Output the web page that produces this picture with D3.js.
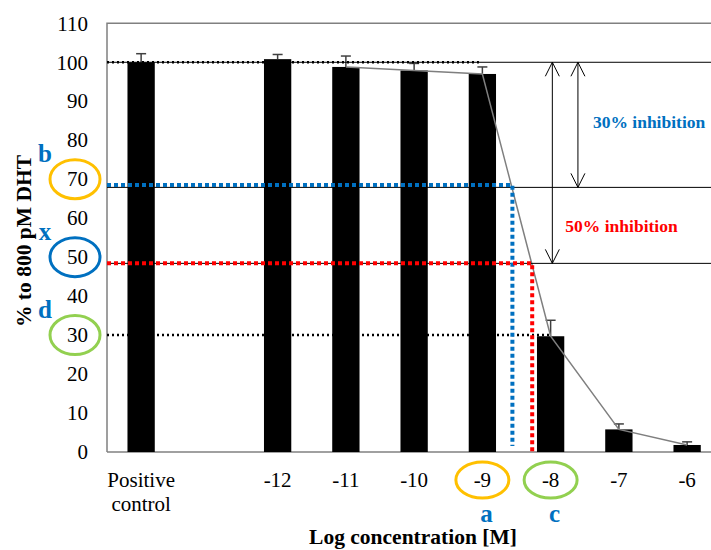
<!DOCTYPE html>
<html>
<head>
<meta charset="utf-8">
<script src="https://cdn.jsdelivr.net/npm/d3@7"></script>
<style>
	body { margin: 0; background: #fff; }
	text { font-family: 'Liberation Serif', 'Times New Roman', serif; }
</style>
</head>
<body>
<div id="chart"></div>
<script>
// data
const categories = ['PC', 'gap', '-12', '-11', '-10', '-9', '-8', '-7', '-6'];
const tickLabels = ['Positive control', '', '-12', '-11', '-10', '-9', '-8', '-7', '-6'];
const values = [100, null, 100.8, 98.8, 97.9, 97, 29.7, 5.8, 1.8];
const errors = [2.2, null, 1.2, 2.8, 1.8, 1.8, 4.1, 1.4, 0.8];
const lineCategories = ['-11', '-10', '-9', '-8', '-7', '-6'];
const yTicks = [0, 10, 20, 30, 40, 50, 60, 70, 80, 90, 100, 110];

// annotation values
const guideLevels = [100, 67.9, 48.4]; // thin solid lines
const topDotted = { level: 100, end: -9.05 };
const floorDotted = { level: 30, end: -8 };
const blueDotted = { level: 68.5, conc: -8.56 };
const redDotted = { level: 48.4, conc: -8.27 };
const arrows = [
	{ from: 100, to: 48.4, conc: -7.975, label: '50% inhibition' },
	{ from: 100, to: 67.9, conc: -7.6, label: '30% inhibition' }
];
const circledLevels = [70, 50, 30];
const levelLetters = ['b', 'x', 'd'];
const circledConcs = ['-9', '-8'];
const concLetters = ['a', 'c'];

const W = 711, H = 550;
const plotLeft = 107, plotTop = 23.3, plotBottom = 452;

const svg = d3.select('#chart').append('svg').attr('width', W).attr('height', H);

const x = d3.scaleBand().domain(categories).range([plotLeft, plotLeft + 9 * 68.25]).paddingInner(0.6).paddingOuter(0.3);
const y = d3.scaleLinear().domain([0, 110]).range([plotBottom, plotTop]);
const cx = (c) => x(c) + x.bandwidth() / 2;
const logX = d3.scaleLinear().domain([-12, -6]).range([cx('-12'), cx('-6')]);

const blue = '#0070C0', red = '#FF0000', orange = '#FFC000', green = '#92D050';

// frame
svg.append('path')
	.attr('d', `M${plotLeft},${plotBottom} V${plotTop} H${W + 5}`)
	.attr('fill', 'none').attr('stroke', '#808080').attr('stroke-width', 1.5);
svg.append('line')
	.attr('x1', plotLeft).attr('x2', W + 5).attr('y1', plotBottom).attr('y2', plotBottom)
	.attr('stroke', '#808080').attr('stroke-width', 1.5);

// 30 dotted guide sits behind the bars
svg.append('line')
	.attr('x1', plotLeft).attr('x2', logX(floorDotted.end))
	.attr('y1', y(floorDotted.level)).attr('y2', y(floorDotted.level))
	.attr('stroke', '#000').attr('stroke-width', 2.5).attr('stroke-dasharray', '2,3');

// bars
const rows = categories.map((c, i) => ({ c, v: values[i], e: errors[i] })).filter((d) => d.v !== null);

svg.selectAll('rect.bar').data(rows).join('rect')
	.attr('class', 'bar')
	.attr('x', (d) => x(d.c)).attr('width', x.bandwidth())
	.attr('y', (d) => y(d.v)).attr('height', (d) => y(0) - y(d.v))
	.attr('fill', '#000');

// error bars (upper)
const eb = svg.selectAll('g.err').data(rows).join('g').attr('class', 'err')
	.attr('stroke', '#404040').attr('stroke-width', 1.5);
eb.append('line').attr('x1', (d) => cx(d.c)).attr('x2', (d) => cx(d.c))
	.attr('y1', (d) => y(d.v)).attr('y2', (d) => y(d.v + d.e));
eb.append('line').attr('x1', (d) => cx(d.c) - 5).attr('x2', (d) => cx(d.c) + 5)
	.attr('y1', (d) => y(d.v + d.e)).attr('y2', (d) => y(d.v + d.e));

// curve
const linePts = lineCategories.map((c) => ({ c, v: values[categories.indexOf(c)] }));
svg.append('path').datum(linePts)
	.attr('d', d3.line().x((d) => cx(d.c)).y((d) => y(d.v)))
	.attr('fill', 'none').attr('stroke', '#7f7f7f').attr('stroke-width', 1.5);

// thin solid guides
svg.selectAll('line.guide').data(guideLevels).join('line')
	.attr('class', 'guide')
	.attr('x1', plotLeft).attr('x2', W + 5)
	.attr('y1', (d) => y(d)).attr('y2', (d) => y(d))
	.attr('stroke', '#000').attr('stroke-width', 1);

// top dotted
svg.append('line')
	.attr('x1', plotLeft).attr('x2', logX(topDotted.end))
	.attr('y1', y(topDotted.level)).attr('y2', y(topDotted.level))
	.attr('stroke', '#000').attr('stroke-width', 2.5).attr('stroke-dasharray', '2,3');

// blue and red dotted elbows
[[blueDotted, blue, 6], [redDotted, red, 0]].forEach(([g, col, gap]) => {
	svg.append('path')
		.attr('d', `M${plotLeft},${y(g.level)} H${logX(g.conc)} V${plotBottom - gap}`)
		.attr('fill', 'none').attr('stroke', col).attr('stroke-width', 4).attr('stroke-dasharray', '4,3');
});

// arrows
const head = (ax, ay, dir) => `M${ax - 7},${ay + dir * 14} L${ax},${ay} L${ax + 7},${ay + dir * 14}`;
arrows.forEach((a) => {
	const ax = logX(a.conc);
	svg.append('line').attr('x1', ax).attr('x2', ax).attr('y1', y(a.from)).attr('y2', y(a.to))
		.attr('stroke', '#000').attr('stroke-width', 1);
	svg.append('path').attr('d', head(ax, y(a.from), 1) + head(ax, y(a.to), -1))
		.attr('fill', 'none').attr('stroke', '#000').attr('stroke-width', 1);
});

// inhibition labels
svg.append('text')
	.attr('x', logX(arrows[0].conc) + 13).attr('y', (y(guideLevels[1]) + y(guideLevels[2])) / 2)
	.attr('dy', '0.4em')
	.style('font-size', '17.5px').style('font-weight', 'bold').attr('fill', red)
	.text(arrows[0].label);
svg.append('text')
	.attr('x', logX(arrows[1].conc) + 15).attr('y', (y(guideLevels[0]) + y(guideLevels[1])) / 2)
	.attr('dy', '0.2em')
	.style('font-size', '17.5px').style('font-weight', 'bold').attr('fill', blue)
	.text(arrows[1].label);

// y axis labels
const yAxis = svg.append('g').attr('transform', `translate(${plotLeft},0)`)
	.call(d3.axisLeft(y).tickValues(yTicks).tickSize(0).tickPadding(19));
yAxis.select('.domain').remove();
yAxis.selectAll('text').style('font-size', '21px').style('font-family', "'Liberation Serif', serif").attr('fill', '#000');

// x axis labels
const xl = svg.append('g').selectAll('text').data(categories.map((c, i) => ({ c, label: tickLabels[i] })))
	.join('text')
	.attr('text-anchor', 'middle')
	.attr('x', (d) => cx(d.c)).attr('y', 487)
	.style('font-size', '21px');
xl.each(function (d) {
	const words = d.label.split(' ');
	d3.select(this).selectAll('tspan').data(words).join('tspan')
		.attr('x', cx(d.c)).attr('dy', (w, j) => (j === 0 ? 0 : 24))
		.text((w) => w);
});

// axis titles
svg.append('text')
	.attr('transform', `translate(31, 241) rotate(-90)`)
	.attr('text-anchor', 'middle')
	.style('font-size', '21.5px').style('font-weight', 'bold')
	.text('% to 800 pM DHT');
svg.append('text')
	.attr('x', 413).attr('y', 544)
	.attr('text-anchor', 'middle')
	.style('font-size', '21.5px').style('font-weight', 'bold')
	.text('Log concentration [M]');

// circled y labels and letters
const ringCols = [orange, blue, green];
circledLevels.forEach((v, i) => {
	svg.append('ellipse').attr('cx', 75).attr('cy', y(v)).attr('rx', 25).attr('ry', 19.5)
		.attr('fill', 'none').attr('stroke', ringCols[i]).attr('stroke-width', 3);
	svg.append('text').attr('x', 45).attr('y', y(v) - 17)
		.attr('text-anchor', 'middle')
		.style('font-size', '25px').style('font-weight', 'bold').attr('fill', blue)
		.text(levelLetters[i]);
});

// circled x labels and letters
const concCols = [orange, green];
circledConcs.forEach((c, i) => {
	svg.append('ellipse').attr('cx', cx(c)).attr('cy', 480).attr('rx', 26.5).attr('ry', 18)
		.attr('fill', 'none').attr('stroke', concCols[i]).attr('stroke-width', 3);
	svg.append('text').attr('x', cx(c) + 4).attr('y', 522)
		.attr('text-anchor', 'middle')
		.style('font-size', '25px').style('font-weight', 'bold').attr('fill', blue)
		.text(concLetters[i]);
});
</script>
</body>
</html>
